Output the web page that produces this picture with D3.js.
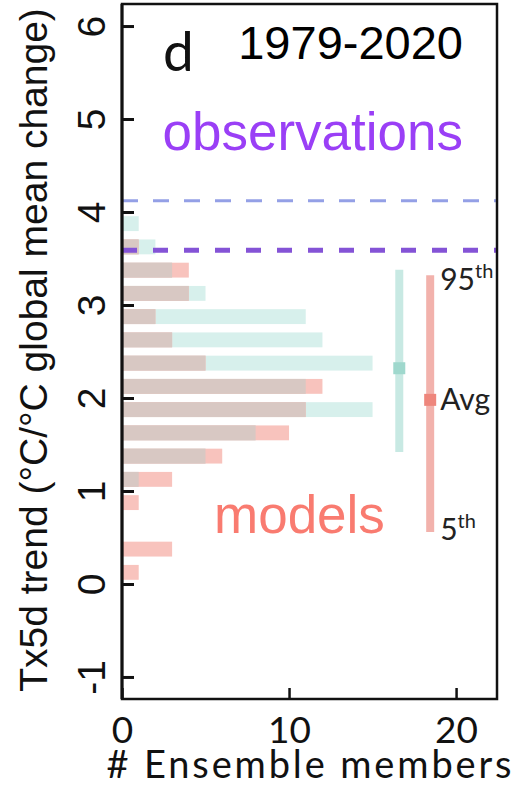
<!DOCTYPE html>
<html>
<head>
<meta charset="utf-8">
<script src="https://cdn.jsdelivr.net/npm/d3@7"></script>
<style>
  body { margin: 0; background: #fff; }
  svg { display: block; }
</style>
</head>
<body>
<svg id="chart" width="515" height="785"></svg>
<script>
// histogram bins (centre of each 0.25 bin), top to bottom
const binCenters = [3.875, 3.625, 3.375, 3.125, 2.875, 2.625, 2.375, 2.125, 1.875, 1.625, 1.375, 1.125, 0.875, 0.625, 0.375, 0.125];
const tealCounts = [1, 2, 3, 5, 11, 12, 15, 11, 15, 8, 5, 1, 0, 0, 0, 0];
const redCounts  = [0, 1, 4, 4, 2, 3, 5, 12, 11, 10, 6, 3, 1, 0, 3, 1];

// observed trends (dashed lines)
const obsValues = [4.12, 3.59];

// 5th / avg / 95th of each ensemble, and where they sit on the count axis
const tealRange = [1.42, 2.32, 3.38];
const redRange  = [0.56, 1.98, 3.32];
const rangeX = [16.6, 18.45];
const rangeLabels = ["5", "Avg", "95"];

const yTicks = [-1, 0, 1, 2, 3, 4, 5, 6];
const xTicks = [0, 10, 20];

const svg = d3.select("#chart");

const x = d3.scaleLinear().domain([0, 22.45]).range([122, 497]);
const y = d3.scaleLinear().domain([-1.237, 6.237]).range([699, 4]);

const half = 0.08; // half bar thickness in data units

const rows = binCenters.map((c, i) => ({
    c: c,
    teal: tealCounts[i],
    red: redCounts[i],
    both: Math.min(tealCounts[i], redCounts[i])
}));

function bars(cls, key, color) {
    svg.append("g")
        .selectAll("rect." + cls)
        .data(rows.filter(d => d[key] > 0))
        .join("rect")
        .attr("class", cls)
        .attr("x", x(0))
        .attr("y", d => y(d.c + half))
        .attr("width", d => x(d[key]) - x(0))
        .attr("height", d => y(d.c - half) - y(d.c + half))
        .style("fill", color);
}

bars("teal", "teal", "#d7f0ec");
bars("red", "red", "#f8c3bd");
bars("both", "both", "#d8c8c3");

// observation lines
svg.append("line")
    .attr("x1", x(0)).attr("x2", x.range()[1])
    .attr("y1", y(obsValues[0])).attr("y2", y(obsValues[0]))
    .style("stroke", "#94a0e6")
    .style("stroke-width", 3)
    .style("stroke-dasharray", "16 15");

svg.append("line")
    .attr("x1", x(0)).attr("x2", x.range()[1])
    .attr("y1", y(obsValues[1])).attr("y2", y(obsValues[1]))
    .style("stroke", "#8453d6")
    .style("stroke-width", 5)
    .style("stroke-dasharray", "15 16");

// ensemble ranges
[[tealRange, rangeX[0], "#c8e9e3", "#9fd8cd"], [redRange, rangeX[1], "#f2b2ac", "#ee867c"]].forEach(([r, xv, lc, mc]) => {
    svg.append("line")
        .attr("x1", x(xv)).attr("x2", x(xv))
        .attr("y1", y(r[0])).attr("y2", y(r[2]))
        .style("stroke", lc)
        .style("stroke-width", 8);
    svg.append("rect")
        .attr("x", x(xv) - 6).attr("y", y(r[1]) - 6)
        .attr("width", 12).attr("height", 12)
        .style("fill", mc);
});

const lab = svg.append("g")
    .style("font-family", "Lato, sans-serif")
    .style("fill", "#222");

[[redRange[2], rangeLabels[2], true, 290], [redRange[1], rangeLabels[1], false, 410], [redRange[0], rangeLabels[0], true, 540]].forEach(([v, t, sup, base]) => {
    const txt = lab.append("text")
        .attr("x", x(rangeX[1]) + 10)
        .attr("y", base)
        .style("font-size", "30px")
        .text(t);
    if (sup) txt.append("tspan").attr("dy", -12).style("font-size", "20px").text("th");
});

// frame
svg.append("rect")
    .attr("x", x(0)).attr("y", y.range()[1])
    .attr("width", x.range()[1] - x(0))
    .attr("height", y.range()[0] - y.range()[1])
    .style("fill", "none")
    .style("stroke", "#111")
    .style("stroke-width", 2.5);

svg.append("line")
    .attr("x1", x(0)).attr("x2", x(0))
    .attr("y1", y.range()[1]).attr("y2", y.range()[0])
    .style("stroke", "#111")
    .style("stroke-width", 3);

// y axis
const yAxis = svg.append("g")
    .attr("transform", `translate(${x(0)},0)`)
    .call(d3.axisLeft(y).tickValues(yTicks).tickSizeInner(-12).tickSizeOuter(0).tickFormat(d3.format("d")));
yAxis.select(".domain").remove();
yAxis.selectAll(".tick line").style("stroke", "#111").style("stroke-width", 3);
yAxis.selectAll(".tick text")
    .attr("transform", "rotate(-90)")
    .attr("x", 0).attr("y", -17).attr("dy", 0)
    .attr("text-anchor", "middle")
    .style("font-family", "'Liberation Sans', Arial, sans-serif")
    .style("font-size", "39px")
    .style("fill", "#111")
    .text(d => d < 0 ? "-" + Math.abs(d) : d);

// x axis
const xAxis = svg.append("g")
    .attr("transform", `translate(0,${y.range()[0]})`)
    .call(d3.axisBottom(x).tickValues(xTicks).tickSizeInner(-11).tickSizeOuter(0));
xAxis.select(".domain").remove();
xAxis.selectAll(".tick line").style("stroke", "#111").style("stroke-width", 2.5);
xAxis.selectAll(".tick text")
    .attr("y", 44).attr("dy", 0)
    .style("font-family", "Lato, sans-serif")
    .style("font-size", "37px")
    .style("fill", "#111");

// titles
svg.append("text")
    .attr("transform", "translate(47,350) rotate(-90)")
    .attr("text-anchor", "middle")
    .style("font-family", "'Liberation Sans', Arial, sans-serif")
    .style("font-size", "39px")
    .style("fill", "#111")
    .text("Tx5d trend (°C/°C global mean change)");

svg.append("text")
    .attr("x", 309).attr("y", 778)
    .attr("text-anchor", "middle")
    .attr("textLength", 405)
    .attr("lengthAdjust", "spacing")
    .style("font-family", "Lato, sans-serif")
    .style("font-size", "38px")
    .style("fill", "#111")
    .text("# Ensemble members");

svg.append("text")
    .attr("x", 163).attr("y", 71)
    .style("font-family", "Lato, sans-serif")
    .style("font-size", "55px")
    .style("fill", "#111")
    .text("d");

svg.append("text")
    .attr("x", 463).attr("y", 59)
    .attr("text-anchor", "end")
    .style("font-family", "'Liberation Sans', Arial, sans-serif")
    .style("font-size", "47px")
    .style("fill", "#000")
    .text("1979-2020");

svg.append("text")
    .attr("x", 463).attr("y", 150)
    .attr("text-anchor", "end")
    .style("font-family", "'Liberation Sans', Arial, sans-serif")
    .style("font-size", "53px")
    .style("fill", "#9a3ff6")
    .text("observations");

svg.append("text")
    .attr("x", 214).attr("y", 533)
    .style("font-family", "'Liberation Sans', Arial, sans-serif")
    .style("font-size", "53px")
    .style("fill", "#f97b70")
    .text("models");
</script>
</body>
</html>
